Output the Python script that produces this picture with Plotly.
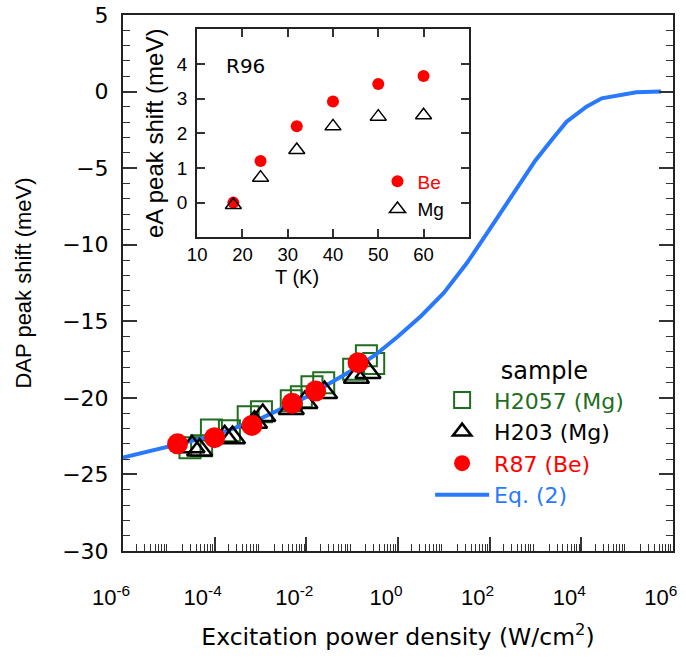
import plotly.graph_objects as go

FONT = "Liberation Sans, Arial, sans-serif"
WFONT = "DejaVu Sans, Liberation Sans, sans-serif"

# ---------------- main panel data ----------------
# Eq. (2) curve: excitation power density (W/cm^2) vs DAP peak shift (meV)
eq2_x = [1e-6, 1e-5, 1e-4, 1e-3, 1e-2, 1e-1, 0.32, 1.0, 3.2, 10, 32, 100, 320,
         1000, 2500, 4800, 13000, 28000, 1.6e5, 5.5e5]
eq2_y = [-23.9, -23.2, -22.45, -21.35, -19.95, -18.2, -17.2, -16.0, -14.65, -13.15,
         -11.2, -9.0, -6.7, -4.5, -3.0, -1.97, -0.99, -0.44, -0.05, 0.0]

# H2057 (Mg) open squares
h2057_x = [2.9e-5, 5.2e-5, 8.5e-5, 2.1e-4, 5.4e-4, 1.05e-3, 4.7e-3, 7.8e-3,
           1.33e-2, 2.4e-2, 0.108, 0.205, 0.296]
h2057_y = [-23.25, -23.13, -22.10, -22.15, -21.23, -20.91, -20.19, -19.93,
           -19.27, -19.01, -18.14, -17.25, -17.75]

# H203 (Mg) open triangles
h203_x = [3.2e-5, 4.7e-5, 1.66e-4, 2.45e-4, 7.4e-4, 1.12e-3, 4.7e-3, 9.3e-3,
          2.5e-2, 0.124, 0.222]
h203_y = [-23.2, -23.4, -22.55, -22.6, -21.6, -21.15, -20.7, -20.3,
          -19.65, -18.65, -18.35]

# R87 (Be) filled circles
r87_x = [1.55e-5, 1.0e-4, 6.5e-4, 4.9e-3, 1.6e-2, 0.135]
r87_y = [-23.0, -22.6, -21.8, -20.35, -19.55, -17.7]

# ---------------- inset data ----------------
inset_T = [18, 24, 32, 40, 50, 60]
inset_be = [0.0, 1.2, 2.2, 2.92, 3.42, 3.65]
inset_mg = [-0.07, 0.72, 1.52, 2.2, 2.48, 2.52]

# tick definitions
x_label_exp = [-6, -4, -2, 0, 2, 4, 6]
x_label_vals = [10.0 ** e for e in x_label_exp]
x_label_text = ["10<sup>%d</sup>" % e for e in x_label_exp]
x_odd_vals = [10.0 ** e for e in [-5, -3, -1, 1, 3, 5]]
x_minor_vals = [m * 10.0 ** e for e in range(-6, 6) for m in range(2, 10)]
y_major_vals = [-30, -25, -20, -15, -10, -5, 0, 5]
inset_xticks = [10, 20, 30, 40, 50, 60]
inset_yticks = [0, 1, 2, 3, 4]

GREEN = "#1f6e1f"
BLUE = "#2979fc"
RED = "#ff0000"

fig = go.Figure()

fig.add_trace(go.Scatter(
    x=h2057_x, y=h2057_y, mode="markers",
    name="<span style='color:%s'>H2057 (Mg)</span>" % GREEN, legendrank=1,
    marker=dict(symbol="square-open", size=21, color=GREEN, line=dict(width=2, color=GREEN)),
))
fig.add_trace(go.Scatter(
    x=eq2_x, y=eq2_y, mode="lines",
    name="<span style='color:%s'>Eq. (2)</span>" % BLUE, legendrank=4,
    line=dict(color=BLUE, width=4),
))
fig.add_trace(go.Scatter(
    x=h203_x, y=h203_y, mode="markers",
    name="H203 (Mg)", legendrank=2,
    marker=dict(symbol="triangle-up-open", size=22, color="black", line=dict(width=2.5, color="black")),
))
fig.add_trace(go.Scatter(
    x=r87_x, y=r87_y, mode="markers",
    name="<span style='color:%s'>R87 (Be)</span>" % RED, legendrank=3,
    marker=dict(symbol="circle", size=21, color=RED),
))

# inset traces
fig.add_trace(go.Scatter(
    x=inset_T, y=inset_be, mode="markers", xaxis="x2", yaxis="y2", legend="legend2",
    name="<span style='color:%s'>Be</span>" % RED,
    marker=dict(symbol="circle", size=12, color=RED),
))
fig.add_trace(go.Scatter(
    x=inset_T, y=inset_mg, mode="markers", xaxis="x2", yaxis="y2", legend="legend2",
    name="Mg",
    marker=dict(symbol="triangle-up-open", size=14, color="black", line=dict(width=1.5, color="black")),
))

axis_common = dict(showgrid=False, zeroline=False, showline=True, linecolor="#222",
                   linewidth=2, ticks="inside", tickcolor="#333", tickwidth=1.5,
                   automargin=False)

fig.update_layout(
    width=686, height=661,
    margin=dict(l=123, r=13, t=15, b=110, autoexpand=False),
    paper_bgcolor="white", plot_bgcolor="white",
    font=dict(family=FONT, size=22, color="black"),
    showlegend=True,
    xaxis=dict(
        **axis_common, type="log", range=[-6, 6.003], mirror=True,
        tickmode="array", tickvals=x_label_vals, ticktext=x_label_text, ticklen=14,
        minor=dict(tickmode="array", tickvals=x_minor_vals, ticks="inside", ticklen=7,
                   tickcolor="#333", tickwidth=1.2),
        tickfont=dict(size=22, family=FONT), ticklabelstandoff=26, ticklabelshift=-12,
        ticklabeloverflow="allow",
        title=dict(text="Excitation power density (W/cm<sup>2</sup>)",
                   font=dict(size=23.5, family=WFONT), standoff=19),
        domain=[0, 1],
    ),
    # overlay axis carrying the long unlabeled ticks at odd decades
    xaxis3=dict(
        type="log", range=[-6, 6.003], overlaying="x", anchor="y", side="bottom",
        showgrid=False, zeroline=False, showline=False, showticklabels=False,
        tickmode="array", tickvals=x_odd_vals, ticks="inside", ticklen=14,
        tickcolor="#333", tickwidth=1.5, automargin=False,
    ),
    yaxis=dict(
        **axis_common, range=[-30, 5], mirror="ticks",
        tickmode="array", tickvals=y_major_vals, ticklen=14,
        minor=dict(dtick=1, ticks="inside", ticklen=7, tickcolor="#333", tickwidth=1.2),
        tickfont=dict(size=22, family=WFONT), ticklabelstandoff=8,
        title=dict(text="DAP peak shift (meV)", font=dict(size=22, family=FONT), standoff=24),
        domain=[0, 1],
    ),
    xaxis2=dict(
        **axis_common, anchor="y2", domain=[0.1348, 0.6288], range=[10, 70], mirror="ticks",
        tickmode="array", tickvals=inset_xticks, ticklen=8,
        tickfont=dict(size=18.5), ticklabelstandoff=0,
    ),
    yaxis2=dict(
        **axis_common, anchor="x2", domain=[0.5853, 0.9733], range=[-1, 5], mirror="ticks",
        tickmode="array", tickvals=inset_yticks, ticklen=8,
        tickfont=dict(size=19), ticklabelstandoff=4,
        title=dict(text="eA peak shift (meV)", font=dict(size=24), standoff=6),
    ),
    legend=dict(
        x=0.5584, y=0.3787, xanchor="left", yanchor="top",
        bgcolor="rgba(0,0,0,0)", borderwidth=0,
        font=dict(size=22, family=WFONT, color="black"),
        title=dict(text="\u00a0" * 9 + "sample", font=dict(size=24, family=WFONT)),
        itemwidth=54, tracegroupgap=0, traceorder="normal",
    ),
    legend2=dict(
        x=0.4627, y=0.7248, xanchor="left", yanchor="top",
        bgcolor="rgba(0,0,0,0)", borderwidth=0,
        font=dict(size=19, family=FONT, color="black"),
        itemwidth=30, tracegroupgap=0,
    ),
    annotations=[
        dict(text="R96", xref="x2", yref="y2", x=16, y=3.93, xanchor="left", yanchor="middle",
             showarrow=False, font=dict(size=20, family=WFONT, color="black")),
        dict(text="T (K)", xref="paper", yref="paper", x=0.316, y=0.5105,
             xanchor="center", yanchor="middle", showarrow=False,
             font=dict(size=20, family=FONT, color="black")),
    ],
)

fig.write_html("out.html")
